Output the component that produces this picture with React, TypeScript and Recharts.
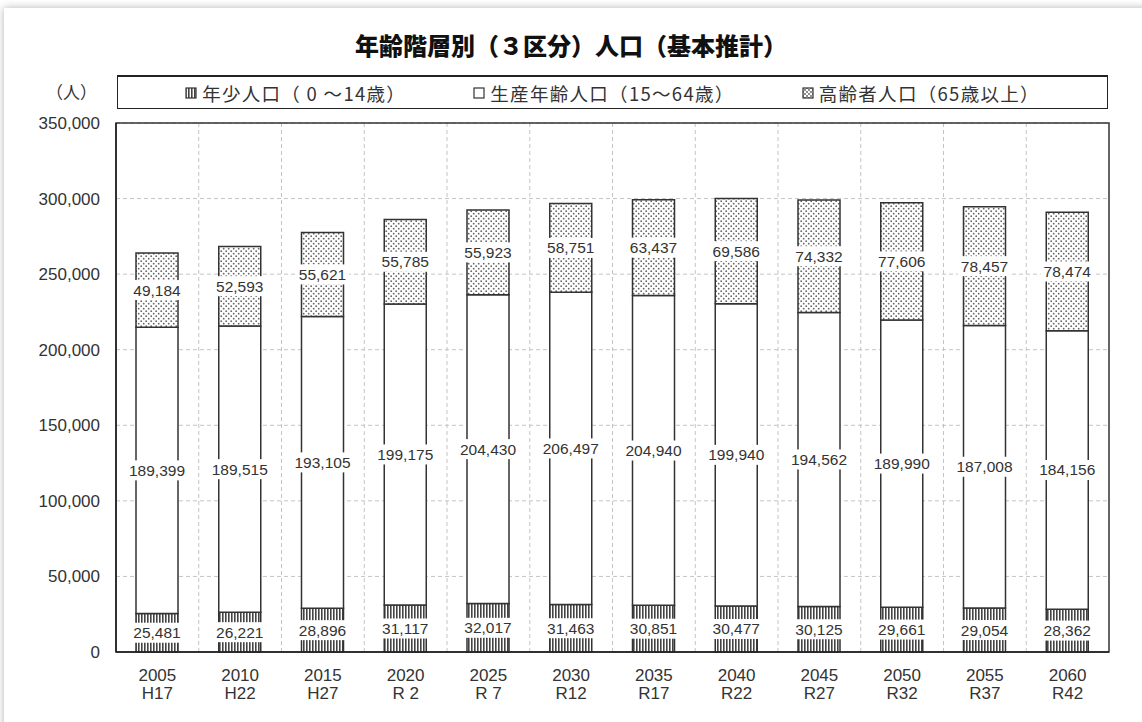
import React from "react";
import {
  BarChart,
  Bar,
  XAxis,
  YAxis,
  CartesianGrid,
  LabelList,
  ReferenceArea,
} from "recharts";

const YEARS = ["2005", "2010", "2015", "2020", "2025", "2030", "2035", "2040", "2045", "2050", "2055", "2060"];
const ERAS = ["H17", "H22", "H27", "R 2", "R 7", "R12", "R17", "R22", "R27", "R32", "R37", "R42"];

const YOUTH = [25481, 26221, 28896, 31117, 32017, 31463, 30851, 30477, 30125, 29661, 29054, 28362];
const WORKING = [189399, 189515, 193105, 199175, 204430, 206497, 204940, 199940, 194562, 189990, 187008, 184156];
const ELDERLY = [49184, 52593, 55621, 55785, 55923, 58751, 63437, 69586, 74332, 77606, 78457, 78474];

const Y_TICKS = [0, 50000, 100000, 150000, 200000, 250000, 300000, 350000];

const LEGEND = [
  { key: "youth", label: "年少人口（ 0 ～14歳）", fill: "url(#lg-stripe)" },
  { key: "working", label: "生産年齢人口（15～64歳）", fill: "#fff" },
  { key: "elderly", label: "高齢者人口（65歳以上）", fill: "url(#lg-dots)" },
];

const data = YEARS.map((year, i) => ({
  year,
  era: ERAS[i],
  youth: YOUTH[i],
  working: WORKING[i],
  elderly: ELDERLY[i],
}));

const NUM_FONT = "'Liberation Sans', Arial, sans-serif";
const JP_FONT = "'Noto Sans CJK JP', sans-serif";
const fmt = (v: number) => v.toLocaleString("en-US");

function ValueLabel(props: any) {
  const { x, y, width, height, value } = props;
  const cx = Number(x) + Number(width) / 2;
  const cy = Number(y) + Number(height) / 2;
  const text = fmt(Number(value));
  const w = text.length * 8.2 + 4;
  return (
    <g>
      <rect x={cx - w / 2} y={cy - 10} width={w} height={20} fill="#fff" />
      <text
        x={cx}
        y={cy + 5.5}
        textAnchor="middle"
        fontFamily={NUM_FONT}
        fontSize={15.5}
        fill="#333"
      >
        {text}
      </text>
    </g>
  );
}

function YearTick(props: any) {
  const { x, y, payload } = props;
  const i = payload?.index ?? props.index ?? 0;
  return (
    <text textAnchor="middle" fontFamily={NUM_FONT} fontSize={17} fill="#333">
      <tspan x={x} y={y + 21}>{payload.value}</tspan>
      <tspan x={x} y={y + 39}>{ERAS[i]}</tspan>
    </text>
  );
}

function LegendIcon({ fill }: { fill: string }) {
  return (
    <svg width={12} height={12} style={{ marginRight: 5 }}>
      <defs>
        <pattern id="lg-stripe" width={3} height={3} patternUnits="userSpaceOnUse">
          <rect width={3} height={3} fill="#fff" />
          <rect width={1.6} height={3} fill="#444" />
        </pattern>
        <pattern id="lg-dots" width={4} height={4} patternUnits="userSpaceOnUse">
          <rect width={4} height={4} fill="#fff" />
          <circle cx={1} cy={1} r={0.9} fill="#555" />
          <circle cx={3} cy={3} r={0.9} fill="#555" />
        </pattern>
      </defs>
      <rect x={1} y={1} width={10} height={10} fill={fill} stroke="#333" strokeWidth={1.2} />
    </svg>
  );
}

export default function App() {
  return (
    <div
      style={{
        position: "absolute",
        left: 0,
        top: 0,
        width: 1142,
        height: 722,
        overflow: "hidden",
        background: "#fff",
      }}
    >
      <div
        style={{
          position: "absolute",
          left: 4,
          top: 8,
          width: 1160,
          height: 740,
          background: "#fff",
          boxShadow: "0 0 8px rgba(0,0,0,0.3)",
        }}
      />
      <div
        style={{
          position: "absolute",
          left: 0,
          top: 27,
          width: 1142,
          textAlign: "center",
          fontFamily: JP_FONT,
          fontWeight: 900,
          fontSize: 24,
          color: "#111",
        }}
      >
        年齢階層別（３区分）人口（基本推計）
      </div>
      <div
        style={{
          position: "absolute",
          left: 46,
          top: 79,
          fontFamily: JP_FONT,
          fontSize: 17,
          color: "#333",
        }}
      >
        （人）
      </div>
      <div
        style={{
          position: "absolute",
          left: 117,
          top: 75,
          width: 989,
          height: 31,
          border: "1.5px solid #222",
          borderTopWidth: 2,
          display: "flex",
          alignItems: "center",
          justifyContent: "space-evenly",
          fontFamily: JP_FONT,
          fontSize: 18.5,
          letterSpacing: 1.3,
          color: "#333",
          background: "#fff",
        }}
      >
        {LEGEND.map((l) => (
          <div key={l.key} style={{ display: "flex", alignItems: "center" }}>
            <LegendIcon fill={l.fill} />
            <span>{l.label}</span>
          </div>
        ))}
      </div>
      <div style={{ position: "absolute", left: 0, top: 0 }}>
        <BarChart
          width={1142}
          height={722}
          data={data}
          margin={{ top: 123, right: 33, bottom: 0, left: 8 }}
          barSize={42}
        >
          <defs>
            <pattern id="stripe" width={3} height={3} patternUnits="userSpaceOnUse">
              <rect width={3} height={3} fill="#fff" />
              <rect width={1.6} height={3} fill="#444" />
            </pattern>
            <pattern id="dots" width={5} height={5} patternUnits="userSpaceOnUse">
              <rect width={5} height={5} fill="#fff" />
              <circle cx={1.2} cy={1.2} r={0.9} fill="#666" />
              <circle cx={3.7} cy={3.7} r={0.9} fill="#666" />
            </pattern>
          </defs>
          <CartesianGrid
            stroke="#c4c4c4"
            strokeDasharray="4 3"
            verticalCoordinatesGenerator={({ offset }: any) =>
              YEARS.slice(1).map((_, i) => offset.left + ((i + 1) * offset.width) / YEARS.length)
            }
          />
          <XAxis
            dataKey="year"
            height={70}
            tickLine={false}
            axisLine={{ stroke: "#222", strokeWidth: 1.5 }}
            tick={<YearTick />}
            interval={0}
          />
          <YAxis
            width={108}
            domain={[0, 350000]}
            ticks={Y_TICKS}
            tickFormatter={fmt}
            tickLine={false}
            tickMargin={10}
            axisLine={{ stroke: "#222", strokeWidth: 1.5 }}
            tick={{ fontFamily: NUM_FONT, fontSize: 17, fill: "#333" }}
          />
          <ReferenceArea y1={0} y2={350000} fill="none" stroke="#333" strokeWidth={1.5} ifOverflow="visible" />
          <Bar dataKey="youth" stackId="a" fill="url(#stripe)" stroke="#333" strokeWidth={1.5} isAnimationActive={false}>
            <LabelList dataKey="youth" content={<ValueLabel />} />
          </Bar>
          <Bar dataKey="working" stackId="a" fill="#fff" stroke="#333" strokeWidth={1.5} isAnimationActive={false}>
            <LabelList dataKey="working" content={<ValueLabel />} />
          </Bar>
          <Bar dataKey="elderly" stackId="a" fill="url(#dots)" stroke="#333" strokeWidth={1.5} isAnimationActive={false}>
            <LabelList dataKey="elderly" content={<ValueLabel />} />
          </Bar>
        </BarChart>
      </div>
    </div>
  );
}
